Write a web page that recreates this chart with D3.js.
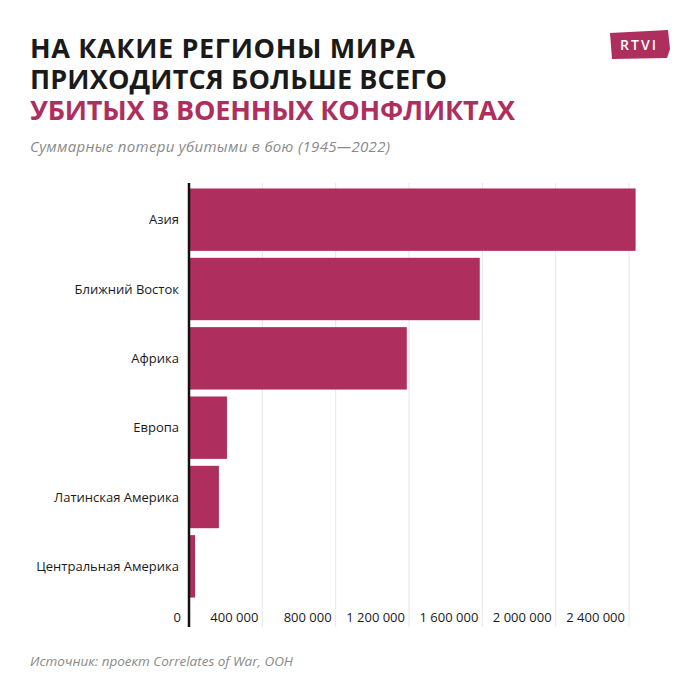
<!DOCTYPE html>
<html><head><meta charset="utf-8">
<script src="https://cdn.jsdelivr.net/npm/d3@7"></script>
<style>
body{margin:0;background:#fff;}
svg{font-family:"Open Sans",sans-serif;}
</style></head>
<body><div id="chart"></div>
<script>
// data
const regions = ['Азия', 'Ближний Восток', 'Африка', 'Европа', 'Латинская Америка', 'Центральная Америка'];
const killed  = [2436000, 1586000, 1188000, 207000, 163000, 33000];
const ticks   = [0, 400000, 800000, 1200000, 1600000, 2000000, 2400000];

const W = 700, H = 700;
const COLOR = '#ae2f5d';
const svg = d3.select('#chart').append('svg').attr('width', W).attr('height', H);

// title
const title = svg.append('text').attr('x', 30).attr('font-weight', 700).attr('font-size', 27);
title.append('tspan').attr('x', 30).attr('y', 58).attr('fill', '#1a1a1a').attr('textLength', 385).text('НА КАКИЕ РЕГИОНЫ МИРА');
title.append('tspan').attr('x', 30).attr('y', 89).attr('fill', '#1a1a1a').attr('textLength', 417).text('ПРИХОДИТСЯ БОЛЬШЕ ВСЕГО');
title.append('tspan').attr('x', 30).attr('y', 120).attr('fill', COLOR).attr('textLength', 485).text('УБИТЫХ В ВОЕННЫХ КОНФЛИКТАХ');

svg.append('text').attr('x', 30).attr('y', 152).attr('font-size', 15).attr('font-style', 'italic')
  .attr('fill', '#8a8a8a').attr('textLength', 360).text('Суммарные потери убитыми в бою (1945—2022)');

// logo
svg.append('path').attr('d', 'M610 33 L668 30 L670 49 L667 58 L612 59 Z').attr('fill', COLOR);
svg.append('text').attr('x', 639).attr('y', 50).attr('text-anchor', 'middle').attr('fill', '#fff')
  .attr('font-size', 14).attr('font-weight', 600).attr('letter-spacing', 2).text('RTVI');

// scales
const x = d3.scaleLinear().domain([0, 2400000]).range([189, 629]);
const y = d3.scaleBand().domain(regions).range([185, 601]).paddingInner(0.1).paddingOuter(0.05);

// grid
svg.append('g').selectAll('line').data(ticks.slice(1)).enter().append('line')
  .attr('x1', d => x(d)).attr('x2', d => x(d)).attr('y1', 183).attr('y2', 627)
  .attr('stroke', '#e6e6e6').attr('stroke-width', 1);

// bars
svg.append('g').selectAll('rect').data(regions).enter().append('rect')
  .attr('x', x(0)).attr('y', d => y(d))
  .attr('width', (d, i) => x(killed[i]) - x(0)).attr('height', y.bandwidth())
  .attr('fill', COLOR);

// category labels
svg.append('g').selectAll('text').data(regions).enter().append('text')
  .attr('x', 179).attr('y', d => y(d) + y.bandwidth() / 2).attr('dy', '0.35em')
  .attr('text-anchor', 'end').attr('font-size', 13).attr('font-weight', 500).attr('fill', '#1a1a1a').text(d => d);

// tick labels
const fmt = d => d3.format(',')(d).replace(/,/g, ' ');
svg.append('g').selectAll('text').data(ticks).enter().append('text')
  .attr('x', d => x(d) - (d === 0 ? 8 : 4)).attr('y', 622).attr('text-anchor', 'end')
  .attr('font-size', 13).attr('font-weight', 500).attr('fill', '#1a1a1a').text(fmt);

// axis line
svg.append('line').attr('x1', x(0)).attr('x2', x(0)).attr('y1', 183).attr('y2', 627)
  .attr('stroke', '#111').attr('stroke-width', 2.5);

svg.append('text').attr('x', 30).attr('y', 666).attr('font-size', 13.5).attr('font-style', 'italic')
  .attr('fill', '#8a8a8a').text('Источник: проект Correlates of War, ООН');
</script></body></html>
